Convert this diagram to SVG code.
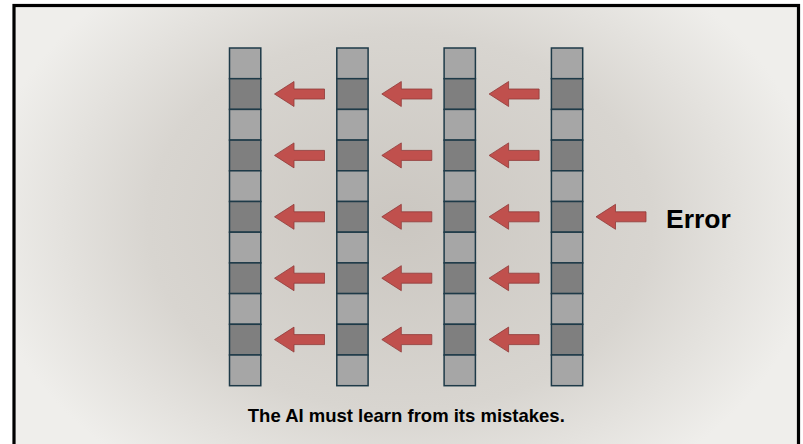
<svg xmlns="http://www.w3.org/2000/svg" width="803" height="444" viewBox="0 0 803 444">
<defs>
<radialGradient id="bg" cx="400" cy="222" r="420" gradientUnits="userSpaceOnUse" gradientTransform="translate(400 222) scale(1 0.75) translate(-400 -222)">
<stop offset="0" stop-color="#cbc7c1"/>
<stop offset="0.6" stop-color="#d8d5d0"/>
<stop offset="1" stop-color="#efeeeb"/>
</radialGradient>
<path id="arr" d="M0 0 L19.5 -12.5 L19.5 -5 L50 -5 L50 5 L19.5 5 L19.5 12.5 Z"/>
</defs>
<style>
.lt{fill:#a6a6a6;stroke:#1e3a48;stroke-width:1.5}
.dk{fill:#7f7f7f;stroke:#1e3a48;stroke-width:1.5}
.ar{fill:#c0504d;stroke:#8f3a38;stroke-width:0.8}
.t{font-family:"Liberation Sans",Arial,sans-serif;font-weight:bold;fill:#000}
</style>
<rect x="0" y="0" width="803" height="444" fill="#ffffff"/>
<rect x="14" y="5.5" width="784.5" height="445" fill="url(#bg)" stroke="#000" stroke-width="3.2"/>
<g id="col1">
<rect class="lt" x="229.5" y="48" width="31.3" height="30.7"/>
<rect class="dk" x="229.5" y="78.7" width="31.3" height="30.7"/>
<rect class="lt" x="229.5" y="109.4" width="31.3" height="30.7"/>
<rect class="dk" x="229.5" y="140.1" width="31.3" height="30.7"/>
<rect class="lt" x="229.5" y="170.8" width="31.3" height="30.7"/>
<rect class="dk" x="229.5" y="201.5" width="31.3" height="30.7"/>
<rect class="lt" x="229.5" y="232.2" width="31.3" height="30.7"/>
<rect class="dk" x="229.5" y="262.9" width="31.3" height="30.7"/>
<rect class="lt" x="229.5" y="293.6" width="31.3" height="30.7"/>
<rect class="dk" x="229.5" y="324.3" width="31.3" height="30.7"/>
<rect class="lt" x="229.5" y="355" width="31.3" height="30.7"/>
</g>
<g id="col2" transform="translate(107.3 0)">
<rect class="lt" x="229.5" y="48" width="31.3" height="30.7"/>
<rect class="dk" x="229.5" y="78.7" width="31.3" height="30.7"/>
<rect class="lt" x="229.5" y="109.4" width="31.3" height="30.7"/>
<rect class="dk" x="229.5" y="140.1" width="31.3" height="30.7"/>
<rect class="lt" x="229.5" y="170.8" width="31.3" height="30.7"/>
<rect class="dk" x="229.5" y="201.5" width="31.3" height="30.7"/>
<rect class="lt" x="229.5" y="232.2" width="31.3" height="30.7"/>
<rect class="dk" x="229.5" y="262.9" width="31.3" height="30.7"/>
<rect class="lt" x="229.5" y="293.6" width="31.3" height="30.7"/>
<rect class="dk" x="229.5" y="324.3" width="31.3" height="30.7"/>
<rect class="lt" x="229.5" y="355" width="31.3" height="30.7"/>
</g>
<g id="col3" transform="translate(214.6 0)">
<rect class="lt" x="229.5" y="48" width="31.3" height="30.7"/>
<rect class="dk" x="229.5" y="78.7" width="31.3" height="30.7"/>
<rect class="lt" x="229.5" y="109.4" width="31.3" height="30.7"/>
<rect class="dk" x="229.5" y="140.1" width="31.3" height="30.7"/>
<rect class="lt" x="229.5" y="170.8" width="31.3" height="30.7"/>
<rect class="dk" x="229.5" y="201.5" width="31.3" height="30.7"/>
<rect class="lt" x="229.5" y="232.2" width="31.3" height="30.7"/>
<rect class="dk" x="229.5" y="262.9" width="31.3" height="30.7"/>
<rect class="lt" x="229.5" y="293.6" width="31.3" height="30.7"/>
<rect class="dk" x="229.5" y="324.3" width="31.3" height="30.7"/>
<rect class="lt" x="229.5" y="355" width="31.3" height="30.7"/>
</g>
<g id="col4" transform="translate(321.9 0)">
<rect class="lt" x="229.5" y="48" width="31.3" height="30.7"/>
<rect class="dk" x="229.5" y="78.7" width="31.3" height="30.7"/>
<rect class="lt" x="229.5" y="109.4" width="31.3" height="30.7"/>
<rect class="dk" x="229.5" y="140.1" width="31.3" height="30.7"/>
<rect class="lt" x="229.5" y="170.8" width="31.3" height="30.7"/>
<rect class="dk" x="229.5" y="201.5" width="31.3" height="30.7"/>
<rect class="lt" x="229.5" y="232.2" width="31.3" height="30.7"/>
<rect class="dk" x="229.5" y="262.9" width="31.3" height="30.7"/>
<rect class="lt" x="229.5" y="293.6" width="31.3" height="30.7"/>
<rect class="dk" x="229.5" y="324.3" width="31.3" height="30.7"/>
<rect class="lt" x="229.5" y="355" width="31.3" height="30.7"/>
</g>
<g id="connectors" class="ar">
<use href="#arr" x="274.5" y="94"/>
<use href="#arr" x="381.8" y="94"/>
<use href="#arr" x="489.1" y="94"/>
<use href="#arr" x="274.5" y="155.4"/>
<use href="#arr" x="381.8" y="155.4"/>
<use href="#arr" x="489.1" y="155.4"/>
<use href="#arr" x="274.5" y="216.8"/>
<use href="#arr" x="381.8" y="216.8"/>
<use href="#arr" x="489.1" y="216.8"/>
<use href="#arr" x="274.5" y="278.2"/>
<use href="#arr" x="381.8" y="278.2"/>
<use href="#arr" x="489.1" y="278.2"/>
<use href="#arr" x="274.5" y="339.6"/>
<use href="#arr" x="381.8" y="339.6"/>
<use href="#arr" x="489.1" y="339.6"/>
<use href="#arr" x="596" y="216.8"/>
</g>
<g id="error-label">
<text class="t" x="666" y="227.5" font-size="26.5">Error</text>
</g>
<g id="caption">
<text class="t" x="406.3" y="421.5" font-size="18.5" text-anchor="middle">The AI must learn from its mistakes.</text>
</g>
</svg>
